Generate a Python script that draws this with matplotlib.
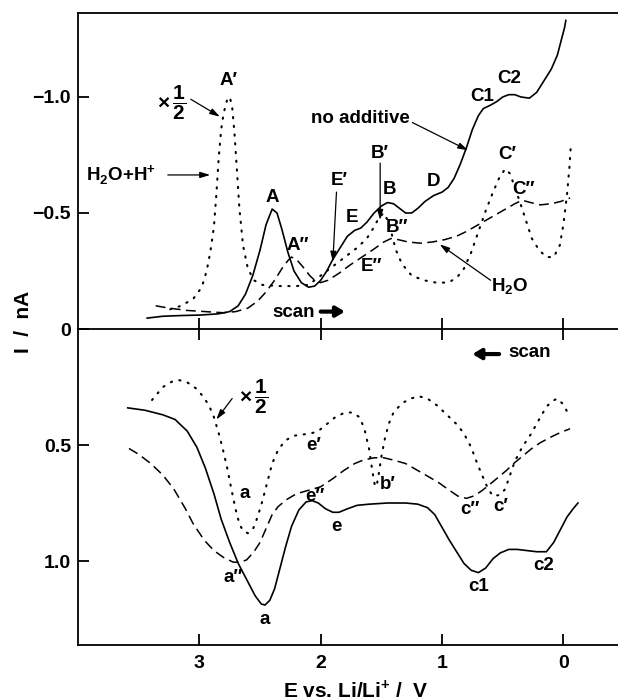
import matplotlib
matplotlib.use("Agg")
import matplotlib.pyplot as plt

plt.rcParams['font.family'] = ['Liberation Sans', 'DejaVu Sans']
plt.rcParams['mathtext.fontset'] = 'custom'
plt.rcParams['mathtext.rm'] = 'Liberation Sans:bold'
plt.rcParams['mathtext.bf'] = 'Liberation Sans:bold'

# ---------------- data (E / V vs Li/Li+, I / nA) ----------------
# cathodic scan (upper half, negative current)
up_none_E = [3.43, 3.30, 3.15, 3.0, 2.85, 2.75, 2.68, 2.62, 2.56, 2.50, 2.45, 2.40, 2.36, 2.32, 2.27,
             2.22, 2.16, 2.10, 2.05, 2.0, 1.95, 1.90, 1.84, 1.78, 1.72, 1.67, 1.62, 1.56, 1.50, 1.45,
             1.40, 1.35, 1.30, 1.25, 1.20, 1.14, 1.07, 1.0, 0.95, 0.90, 0.85, 0.80, 0.75, 0.70, 0.66,
             0.60, 0.55, 0.50, 0.45, 0.40, 0.35, 0.28, 0.22, 0.16, 0.10, 0.05, 0.02, -0.01, -0.02]
up_none_I = [-0.047, -0.055, -0.058, -0.06, -0.065, -0.075, -0.10, -0.15, -0.23, -0.34, -0.45, -0.517,
             -0.50, -0.43, -0.33, -0.25, -0.20, -0.18, -0.185, -0.21, -0.25, -0.30, -0.35, -0.40,
             -0.425, -0.435, -0.46, -0.50, -0.53, -0.545, -0.54, -0.52, -0.50, -0.50, -0.52, -0.55,
             -0.575, -0.59, -0.61, -0.65, -0.71, -0.78, -0.86, -0.92, -0.95, -0.965, -0.98, -1.0,
             -1.01, -1.01, -1.0, -0.995, -1.02, -1.07, -1.12, -1.18, -1.24, -1.30, -1.33]

up_acid_E = [3.24, 3.15, 3.05, 2.98, 2.94, 2.91, 2.88, 2.86, 2.84, 2.82, 2.80, 2.77, 2.75, 2.73, 2.71,
             2.69, 2.67, 2.64, 2.60, 2.55, 2.48, 2.35, 2.2, 2.1, 2.0, 1.90, 1.80, 1.70, 1.62, 1.56,
             1.52, 1.48, 1.45, 1.42, 1.38, 1.33, 1.25, 1.15, 1.05, 0.95, 0.88, 0.82, 0.76, 0.70, 0.64,
             0.58, 0.53, 0.48, 0.44, 0.40, 0.36, 0.31, 0.26, 0.20, 0.14, 0.08, 0.03, 0.0, -0.03,
             -0.05, -0.06]
up_acid_I = [-0.085, -0.10, -0.13, -0.18, -0.25, -0.33, -0.44, -0.58, -0.74, -0.86, -0.93, -0.99, -1.0,
             -0.96, -0.84, -0.68, -0.52, -0.36, -0.26, -0.21, -0.19, -0.185, -0.185, -0.19, -0.23,
             -0.27, -0.31, -0.35, -0.39, -0.44, -0.48, -0.50, -0.47, -0.42, -0.34, -0.28, -0.23, -0.21,
             -0.20, -0.20, -0.22, -0.26, -0.33, -0.42, -0.51, -0.59, -0.65, -0.69, -0.67, -0.61, -0.55,
             -0.47, -0.39, -0.34, -0.31, -0.31, -0.36, -0.45, -0.58, -0.70, -0.78]

up_water_E = [3.36, 3.25, 3.10, 2.95, 2.80, 2.70, 2.60, 2.52, 2.45, 2.38, 2.32, 2.27, 2.24, 2.20, 2.15,
              2.09, 2.04, 2.0, 1.94, 1.85, 1.76, 1.66, 1.56, 1.48, 1.42, 1.36, 1.28, 1.18, 1.08, 0.98,
              0.88, 0.80, 0.70, 0.60, 0.50, 0.40, 0.34, 0.27, 0.19, 0.10, 0.02, -0.055]
up_water_I = [-0.10, -0.09, -0.08, -0.075, -0.07, -0.075, -0.09, -0.12, -0.16, -0.21, -0.26, -0.295,
              -0.31, -0.30, -0.27, -0.23, -0.205, -0.20, -0.21, -0.24, -0.275, -0.31, -0.345, -0.375,
              -0.39, -0.385, -0.375, -0.37, -0.375, -0.385, -0.40, -0.42, -0.45, -0.48, -0.51, -0.54,
              -0.555, -0.545, -0.535, -0.54, -0.55, -0.565]

# anodic scan (lower half, positive current)
lo_none_E = [3.59, 3.45, 3.30, 3.20, 3.10, 3.02, 2.95, 2.88, 2.82, 2.75, 2.68, 2.60, 2.54, 2.49, 2.46,
             2.42, 2.38, 2.34, 2.29, 2.24, 2.18, 2.12, 2.07, 2.02, 1.96, 1.90, 1.85, 1.78, 1.70, 1.60,
             1.45, 1.30, 1.20, 1.12, 1.06, 1.00, 0.94, 0.88, 0.82, 0.76, 0.70, 0.64, 0.58, 0.52, 0.45,
             0.38, 0.30, 0.22, 0.14, 0.08, 0.03, -0.03, -0.08, -0.12]
lo_none_I = [0.34, 0.35, 0.37, 0.39, 0.44, 0.51, 0.60, 0.71, 0.82, 0.92, 1.01, 1.09, 1.15, 1.185, 1.19,
             1.17, 1.12, 1.04, 0.94, 0.85, 0.78, 0.745, 0.74, 0.75, 0.775, 0.79, 0.79, 0.775, 0.76,
             0.755, 0.75, 0.75, 0.755, 0.77, 0.80, 0.855, 0.91, 0.96, 1.01, 1.04, 1.05, 1.03, 0.99,
             0.965, 0.95, 0.95, 0.955, 0.96, 0.96, 0.92, 0.87, 0.81, 0.775, 0.75]

lo_acid_E = [3.39, 3.30, 3.22, 3.17, 3.10, 3.03, 2.97, 2.92, 2.88, 2.84, 2.81, 2.77, 2.74, 2.70, 2.67,
             2.64, 2.60, 2.56, 2.52, 2.48, 2.44, 2.40, 2.35, 2.29, 2.22, 2.15, 2.08, 2.02, 1.95, 1.88,
             1.80, 1.74, 1.68, 1.64, 1.60, 1.575, 1.555, 1.54, 1.52, 1.50, 1.47, 1.44, 1.40, 1.33,
             1.26, 1.19, 1.12, 1.04, 0.96, 0.88, 0.82, 0.76, 0.71, 0.67, 0.62, 0.58, 0.52, 0.48, 0.44,
             0.40, 0.34, 0.27, 0.20, 0.14, 0.09, 0.05, 0.01, -0.03]
lo_acid_I = [0.306, 0.25, 0.225, 0.22, 0.23, 0.255, 0.29, 0.33, 0.38, 0.45, 0.51, 0.60, 0.68, 0.78,
             0.84, 0.87, 0.88, 0.865, 0.81, 0.74, 0.66, 0.58, 0.52, 0.48, 0.46, 0.455, 0.45, 0.44,
             0.41, 0.38, 0.36, 0.36, 0.38, 0.43, 0.52, 0.61, 0.67, 0.68, 0.62, 0.55, 0.47, 0.41, 0.36,
             0.32, 0.30, 0.29, 0.30, 0.33, 0.37, 0.41, 0.45, 0.51, 0.58, 0.63, 0.69, 0.72, 0.715, 0.69,
             0.63, 0.57, 0.51, 0.455, 0.39, 0.335, 0.31, 0.30, 0.32, 0.355]

lo_water_E = [3.58, 3.50, 3.40, 3.30, 3.21, 3.12, 3.05, 2.96, 2.88, 2.80, 2.72, 2.66, 2.61, 2.55, 2.50,
              2.45, 2.40, 2.35, 2.28, 2.20, 2.10, 2.00, 1.90, 1.81, 1.72, 1.65, 1.56, 1.48, 1.40, 1.30,
              1.20, 1.10, 1.02, 0.94, 0.87, 0.80, 0.74, 0.68, 0.63, 0.55, 0.47, 0.41, 0.33, 0.26, 0.19,
              0.10, 0.02, -0.055]
lo_water_I = [0.515, 0.54, 0.58, 0.63, 0.69, 0.77, 0.84, 0.91, 0.955, 0.985, 1.005, 1.005, 0.995, 0.96,
              0.92, 0.86, 0.80, 0.765, 0.735, 0.71, 0.695, 0.68, 0.645, 0.61, 0.58, 0.565, 0.555, 0.555,
              0.565, 0.58, 0.61, 0.64, 0.665, 0.695, 0.72, 0.73, 0.72, 0.70, 0.68, 0.645, 0.61, 0.58,
              0.545, 0.515, 0.49, 0.465, 0.445, 0.43]

x_ticks = [3, 2, 1, 0]
x_tick_labels = ['3', '2', '1', '0']
y_ticks = [-1.0, -0.5, 0.0, 0.5, 1.0]
y_tick_labels = ['\u22121.0', '\u22120.5', '0', '0.5', '1.0']

# ---------------- figure ----------------
fig = plt.figure(figsize=(6.18, 7.0), dpi=100)
ax = fig.add_axes([78 / 618, 55 / 700, 540 / 618, 632 / 700])

solid = dict(color='black', lw=1.2)
dashed = dict(color='black', lw=1.1, linestyle=(0, (6.5, 3.5)))
dotted = dict(color='black', lw=1.5, linestyle=(0, (0.6, 3.6)), dash_capstyle='round')

ax.plot(up_none_E, up_none_I, **solid)
ax.plot(up_acid_E, up_acid_I, **dotted)
ax.plot(up_water_E, up_water_I, **dashed)
ax.plot(lo_none_E, lo_none_I, **solid)
ax.plot(lo_acid_E, lo_acid_I, **dotted)
ax.plot(lo_water_E, lo_water_I, **dashed)

ax.set_xlim(4.0, -0.45)
ax.set_ylim(1.362, -1.362)

for s in ['left', 'bottom', 'top']:
    ax.spines[s].set_linewidth(1.3)
ax.spines['right'].set_visible(False)

ax.set_xticks(x_ticks)
ax.set_xticklabels(x_tick_labels)
ax.set_yticks(y_ticks)
ax.set_yticklabels(y_tick_labels)
ax.tick_params(axis='both', direction='in', length=8, width=1.3, labelsize=14)
ax.tick_params(axis='x', pad=7, top=False)
ax.tick_params(axis='y', pad=5, right=False)
for lab in ax.get_xticklabels() + ax.get_yticklabels():
    lab.set_fontweight('bold')

# middle zero line with crossing ticks
ax2 = ax.twiny()
ax2.set_xlim(ax.get_xlim())
ax2.set_xticks(x_ticks)
ax2.set_xticklabels([])
ax2.xaxis.set_ticks_position('bottom')
ax2.spines['bottom'].set_position(('data', 0))
ax2.spines['bottom'].set_linewidth(1.3)
for s in ['top', 'left', 'right']:
    ax2.spines[s].set_visible(False)
ax2.tick_params(axis='x', direction='inout', length=16, width=1.3)

# axis labels
fig.text(356 / 618, 1 - 690 / 700, 'E vs. Li/Li$^{+}$ /  V', ha='center', va='center',
         fontsize=15, fontweight='bold')
fig.text(24 / 618, 1 - 322 / 700, 'I  /  nA', ha='center', va='center', rotation=90,
         fontsize=15, fontweight='bold')

fs = 13.5
def lbl(x, y, s, **kw):
    ax.text(x, y, s, ha='center', va='center', fontsize=fs, fontweight='bold', **kw)

arrow = dict(arrowstyle='-|>,head_length=0.6,head_width=0.18', lw=0.9, color='black',
             shrinkA=0, shrinkB=0)

def arr(x0, y0, x1, y1):
    ax.annotate('', xy=(x1, y1), xytext=(x0, y0), arrowprops=arrow)

half = r'$\times\,\dfrac{\mathbf{1}}{\mathbf{2}}$'

# upper annotations
ax.text(3.23, -0.975, half, ha='center', va='center', fontsize=15)
arr(3.07, -0.99, 2.83, -0.915)
lbl(2.76, -1.07, 'A\u2032')
ax.text(3.93, -0.664, r'H$_2$O+H$^{+}$', ha='left', va='center', fontsize=fs, fontweight='bold')
arr(3.26, -0.664, 2.91, -0.664)
lbl(2.40, -0.565, 'A')
lbl(2.19, -0.36, 'A\u2033')
lbl(1.675, -0.908, 'no additive')
arr(1.245, -0.89, 0.785, -0.77)
lbl(0.67, -1.0, 'C1')
lbl(0.45, -1.08, 'C2')
lbl(1.51, -0.757, 'B\u2032')
arr(1.51, -0.715, 1.51, -0.47)
lbl(1.85, -0.64, 'E\u2032')
arr(1.87, -0.59, 1.90, -0.29)
lbl(1.43, -0.60, 'B')
lbl(1.74, -0.48, 'E')
lbl(1.07, -0.635, 'D')
lbl(1.37, -0.437, 'B\u2033')
lbl(1.58, -0.27, 'E\u2033')
lbl(0.466, -0.75, 'C\u2032')
lbl(0.33, -0.60, 'C\u2033')
ax.text(0.44, -0.18, r'H$_2$O', ha='center', va='center', fontsize=fs, fontweight='bold')
arr(0.60, -0.21, 1.02, -0.365)

thick = dict(arrowstyle='-|>,head_length=0.5,head_width=0.3', lw=3.0, color='black',
             shrinkA=0, shrinkB=0)
ax.text(2.22, -0.072, 'scan', ha='center', va='center', fontsize=fs, fontweight='bold')
ax.annotate('', xy=(1.80, -0.075), xytext=(2.0, -0.075), arrowprops=thick)

# lower annotations
ax.text(0.28, 0.103, 'scan', ha='center', va='center', fontsize=fs, fontweight='bold')
ax.annotate('', xy=(0.75, 0.108), xytext=(0.53, 0.108), arrowprops=thick)
ax.text(2.55, 0.29, half, ha='center', va='center', fontsize=15)
arr(2.73, 0.30, 2.86, 0.39)
lbl(2.63, 0.71, 'a')
lbl(2.72, 1.07, 'a\u2033')
lbl(2.46, 1.25, 'a')
lbl(2.06, 0.50, 'e\u2032')
lbl(2.045, 0.72, 'e\u2033')
lbl(1.87, 0.85, 'e')
lbl(1.45, 0.67, 'b\u2032')
lbl(0.77, 0.78, 'c\u2033')
lbl(0.52, 0.766, 'c\u2032')
lbl(0.70, 1.11, 'c1')
lbl(0.16, 1.02, 'c2')

fig.savefig('out.png', dpi=100)
